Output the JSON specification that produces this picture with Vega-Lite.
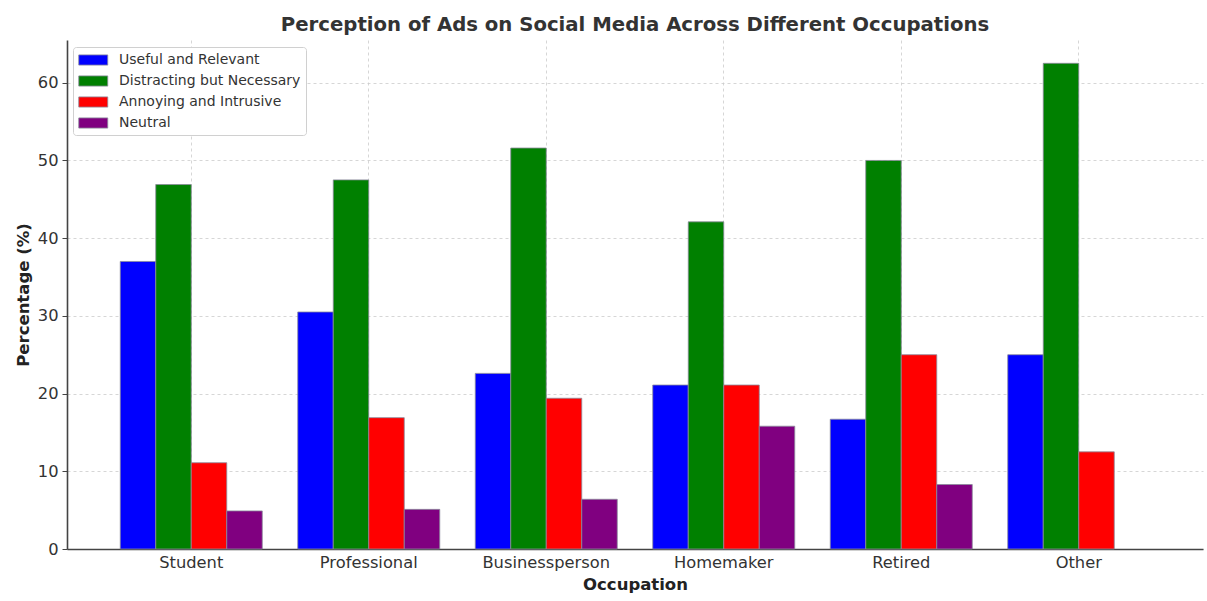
{
  "$schema": "https://vega.github.io/schema/vega-lite/v6.json",
  "autosize": {"type": "none"},
  "width": 1136,
  "height": 509,
  "padding": {"left": 67, "top": 40, "right": 4, "bottom": 52},
  "background": "white",
  "title": {
    "text": "Perception of Ads on Social Media Across Different Occupations",
    "font": "DejaVu Sans",
    "fontSize": 19.7,
    "fontWeight": "bold",
    "color": "#333333",
    "anchor": "middle",
    "offset": 5
  },
  "data": {
    "values": [
      {"occupation": "Student", "perception": "Useful and Relevant", "percentage": 37.0},
      {"occupation": "Student", "perception": "Distracting but Necessary", "percentage": 46.9},
      {"occupation": "Student", "perception": "Annoying and Intrusive", "percentage": 11.1},
      {"occupation": "Student", "perception": "Neutral", "percentage": 4.9},
      {"occupation": "Professional", "perception": "Useful and Relevant", "percentage": 30.5},
      {"occupation": "Professional", "perception": "Distracting but Necessary", "percentage": 47.5},
      {"occupation": "Professional", "perception": "Annoying and Intrusive", "percentage": 16.9},
      {"occupation": "Professional", "perception": "Neutral", "percentage": 5.1},
      {"occupation": "Businessperson", "perception": "Useful and Relevant", "percentage": 22.6},
      {"occupation": "Businessperson", "perception": "Distracting but Necessary", "percentage": 51.6},
      {"occupation": "Businessperson", "perception": "Annoying and Intrusive", "percentage": 19.4},
      {"occupation": "Businessperson", "perception": "Neutral", "percentage": 6.4},
      {"occupation": "Homemaker", "perception": "Useful and Relevant", "percentage": 21.1},
      {"occupation": "Homemaker", "perception": "Distracting but Necessary", "percentage": 42.1},
      {"occupation": "Homemaker", "perception": "Annoying and Intrusive", "percentage": 21.1},
      {"occupation": "Homemaker", "perception": "Neutral", "percentage": 15.8},
      {"occupation": "Retired", "perception": "Useful and Relevant", "percentage": 16.7},
      {"occupation": "Retired", "perception": "Distracting but Necessary", "percentage": 50.0},
      {"occupation": "Retired", "perception": "Annoying and Intrusive", "percentage": 25.0},
      {"occupation": "Retired", "perception": "Neutral", "percentage": 8.3},
      {"occupation": "Other", "perception": "Useful and Relevant", "percentage": 25.0},
      {"occupation": "Other", "perception": "Distracting but Necessary", "percentage": 62.5},
      {"occupation": "Other", "perception": "Annoying and Intrusive", "percentage": 12.5}
    ]
  },
  "mark": {"type": "bar", "stroke": "#8a8a9a", "strokeWidth": 0.8},
  "encoding": {
    "x": {
      "field": "occupation",
      "type": "nominal",
      "sort": ["Student", "Professional", "Businessperson", "Homemaker", "Retired", "Other"],
      "scale": {"paddingInner": 0.2, "paddingOuter": 0.3},
      "axis": {
        "title": "Occupation",
        "labelAngle": 0,
        "ticks": false,
        "bandPosition": 0.5,
        "labelPadding": 5,
        "titlePadding": 6
      }
    },
    "xOffset": {
      "field": "perception",
      "type": "nominal",
      "sort": ["Useful and Relevant", "Distracting but Necessary", "Annoying and Intrusive", "Neutral"],
      "scale": {"domain": ["Useful and Relevant", "Distracting but Necessary", "Annoying and Intrusive", "Neutral"], "paddingInner": 0, "paddingOuter": 0}
    },
    "y": {
      "field": "percentage",
      "type": "quantitative",
      "scale": {"domain": [0, 65.5], "nice": false},
      "axis": {
        "title": "Percentage (%)",
        "values": [0, 10, 20, 30, 40, 50, 60],
        "tickSize": 5,
        "labelPadding": 4,
        "titlePadding": 6
      }
    },
    "color": {
      "field": "perception",
      "type": "nominal",
      "scale": {
        "domain": ["Useful and Relevant", "Distracting but Necessary", "Annoying and Intrusive", "Neutral"],
        "range": ["#0000ff", "#008000", "#ff0000", "#800080"]
      },
      "legend": {
        "title": null,
        "orient": "none",
        "legendX": 6,
        "legendY": 7,
        "symbolType": "M-1,-0.7H3V0.7H-1Z",
        "symbolSize": 210,
        "symbolStrokeColor": "#8a8a9a",
        "symbolStrokeWidth": 0.8,
        "labelFont": "DejaVu Sans",
        "labelFontSize": 14,
        "labelColor": "#333333",
        "labelOffset": 25,
        "labelLimit": 0,
        "rowPadding": 6,
        "padding": 5,
        "strokeColor": "#d0d0d0",
        "fillColor": "white",
        "cornerRadius": 3
      }
    }
  },
  "config": {
    "view": {"stroke": null},
    "font": "DejaVu Sans",
    "axis": {
      "labelFont": "DejaVu Sans",
      "labelFontSize": 16.3,
      "labelColor": "#333333",
      "titleFont": "DejaVu Sans",
      "titleFontSize": 16.5,
      "titleFontWeight": "bold",
      "titleColor": "#222222",
      "domainColor": "#444444",
      "domainWidth": 1.6,
      "tickColor": "#444444",
      "tickWidth": 1,
      "grid": true,
      "gridColor": "#cccccc",
      "gridDash": [3, 3],
      "gridWidth": 0.8
    }
  }
}
